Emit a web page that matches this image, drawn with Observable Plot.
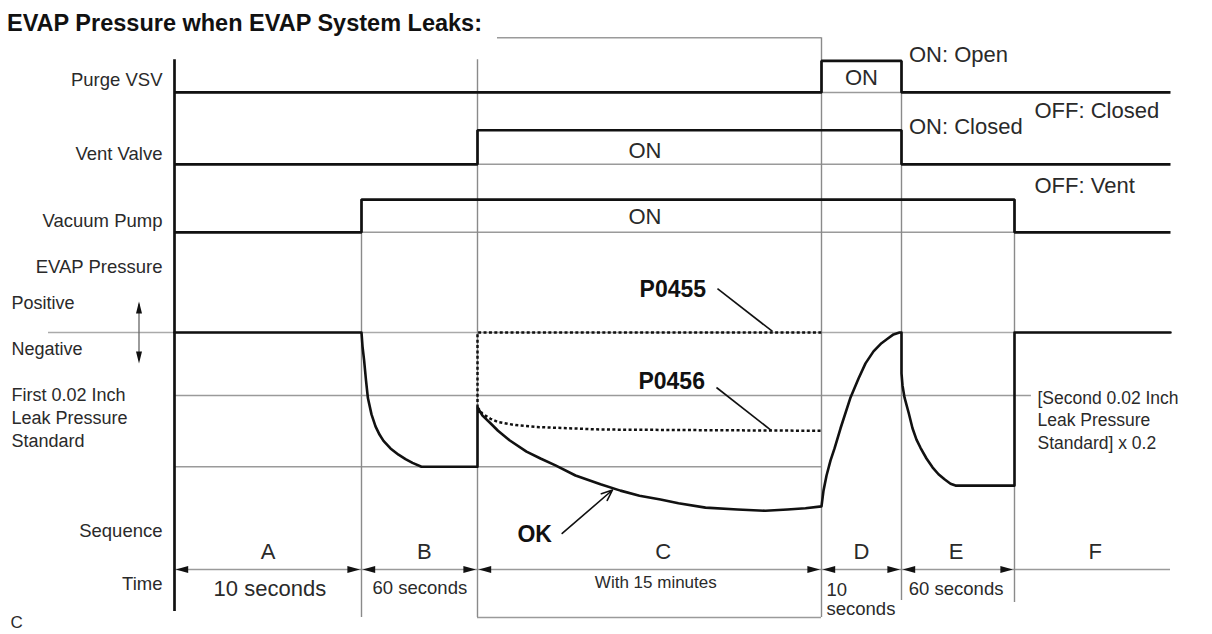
<!DOCTYPE html>
<html><head><meta charset="utf-8">
<script src="https://cdn.jsdelivr.net/npm/d3@7"></script>
<script src="https://cdn.jsdelivr.net/npm/@observablehq/plot@0.6"></script>
<style>
html,body{margin:0;padding:0;background:#fff;}
#title{height:34px;box-sizing:border-box;padding:12px 0 0 7px;font:bold 23.5px/23px "Liberation Sans",Arial,sans-serif;color:#111;white-space:nowrap;}
#chart svg{display:block;}
</style></head>
<body>
<div id="title">EVAP Pressure when EVAP System Leaks:</div>
<div id="chart"></div>
<script>
// ---- Sequence phases (time in seconds; F has no stated length) ----
const phaseNames = ["A", "B", "C", "D", "E", "F"];
const phaseBounds = [0, 10, 70, 970, 980, 1040, 1100];
const phaseLetterT = [5, 42.5, 556, 975, 1009, 1071];

// ---- Switched signals (relative level units) ----
const signalNames = ["Purge VSV", "Vent Valve", "Vacuum Pump"];
const signalOff = [3.81, 2.67, 1.59];
const signalOn = [4.31, 3.21, 2.11];
const signalOnStart = [970, 70, 10];
const signalOnEnd = [980, 980, 1040];
const signalOnLabelT = [975, 508, 508];
const signalOnLabelV = [3.932, 2.773, 1.730];

// ---- EVAP pressure (0 = atmospheric, -1 = first 0.02 inch leak standard) ----
const pressureT = [0, 10, 10.52, 11.34, 12.33, 13.31, 15.17, 17.24, 19.31, 21.38, 25, 29.14, 32.76, 36.38, 41.03, 70,
  70, 83.1, 104, 123.6, 153.7, 198.2, 234.8, 274, 326.4, 391.8, 444, 493.8, 548.7, 595.8, 666.5, 750.2, 823.4, 881, 928, 970,
  970.25, 970.63, 971.13, 971.63, 972.38, 973.63, 974.63, 975.5, 976.5, 977.5, 978.25, 979, 979.75, 980,
  980, 980.53, 981.59, 983.93, 985.84, 987.96, 990.09, 993.27, 996.46, 999.65, 1002.83, 1006.02, 1008.67, 1040,
  1040, 1100];
const pressureV = [0, 0, -0.22, -0.44, -0.76, -1.04, -1.30, -1.49, -1.62, -1.72, -1.84, -1.94, -2.01, -2.07, -2.13, -2.13,
  -1.19, -1.32, -1.44, -1.56, -1.71, -1.89, -2.0, -2.11, -2.27, -2.41, -2.51, -2.59, -2.65, -2.71, -2.78, -2.81, -2.83, -2.81, -2.79, -2.76,
  -2.51, -2.27, -2.03, -1.84, -1.52, -1.03, -0.73, -0.49, -0.30, -0.17, -0.10, -0.03, 0, 0,
  -0.65, -0.84, -1.03, -1.29, -1.52, -1.70, -1.83, -2.0, -2.14, -2.25, -2.33, -2.40, -2.43, -2.43,
  0, 0];
const p0455T = [70, 70, 970];
const p0455V = [-1.19, 0, 0];
const p0456T = [70, 83.1, 104, 123.6, 169.4, 224.4, 391.8, 653.4, 970];
const p0456V = [-1.19, -1.29, -1.37, -1.42, -1.47, -1.50, -1.54, -1.55, -1.56];
const bFloorLevel = -2.13;
const firstStdLevel = -1;

// ---- Guides (time, level) ----
const hGuideV = [firstStdLevel, bFloorLevel, -3.762, 4.678, -4.524];
const hGuideT1 = [0, 0, 0, 122.3, 70];
const hGuideT2 = [1046.5, 970, 1100, 970, 970];
const vGuideT = [10, 70, 970, 980, 1040];
const vGuideTop = [2.11, 4.33, 4.678, 4.306, 2.11];
const vGuideBottom = [-4.524, -4.524, -4.524, -4.254, -4.286];
const axisTop = 4.33, axisBottom = -4.43;
const timeAxisLevel = -3.762;

// ---- Texts ----
const rowLabelText = ["Purge VSV", "Vent Valve", "Vacuum Pump", "EVAP Pressure", "Sequence", "Time"];
const rowLabelV = [3.92, 2.741, 1.671, 0.941, -3.249, -4.095];
const sideLabelText = ["Positive", "Negative", "First 0.02 Inch\nLeak Pressure\nStandard"];
const sideLabelV = [0.376, -0.365, -1.821];
const onStateText = ["ON: Open", "ON: Closed"];
const onStateV = [4.29, 3.154];
const offStateText = ["OFF: Closed", "OFF: Vent"];
const offStateV = [3.397, 2.217];
const durationText = ["10 seconds", "60 seconds", "With 15 minutes", "60 seconds"];
const durationT = [5.1, 40.2, 536.5, 1009];
const durationV = [-4.175, -4.143, -4.063, -4.159];
const durationSize = [22, 18.5, 17, 18.5];
const codeText = ["P0455", "P0456", "OK"];
const codeT = [494, 491, 174.6];
const codeV = [0.571, -0.889, -3.33];
const leaderT1 = [697.8, 695.2], leaderT2 = [841.7, 839.1];
const leaderV1 = [0.698, -0.873], leaderV2 = [0.016, -1.556];
const okArrow = {t1: 291.6, v1: -3.19, t2: 423.2, v2: -2.50};

// ---- build tables ----
const signalRows = signalNames.flatMap((name, i) => [
  {name, t: 0, v: signalOff[i]},
  {name, t: signalOnStart[i], v: signalOn[i]},
  {name, t: signalOnEnd[i], v: signalOff[i]},
  {name, t: phaseBounds[phaseBounds.length - 1], v: signalOff[i]}
]);
const pressure = pressureT.map((t, i) => ({t, v: pressureV[i]}));
const p0455 = p0455T.map((t, i) => ({t, v: p0455V[i]}));
const p0456 = p0456T.map((t, i) => ({t, v: p0456V[i]}));
const hGuides = hGuideV.map((v, i) => ({v, t1: hGuideT1[i], t2: hGuideT2[i]}));
const vGuides = vGuideT.map((t, i) => ({t, v1: vGuideTop[i], v2: vGuideBottom[i]}));
const phaseStarts = phaseBounds.slice(0, 5);
const phaseEnds = phaseBounds.slice(1, 6);

const arrowHead = {draw(ctx) { ctx.moveTo(0, 0); ctx.lineTo(-12.5, -3.5); ctx.lineTo(-12.5, 3.5); ctx.closePath(); }};
const arrowHeadThin = {draw(ctx) { ctx.moveTo(0, 0); ctx.lineTo(-12, -3); ctx.lineTo(-12, 3); ctx.closePath(); }};

const GREY = "#9a9a9a", VGREY = "#8a8a8a", INK = "#111", TXT = "#2a2a2a";
const W = 1212, H = 600, ML = 48, MR = 42;

const chart = Plot.plot({
  width: W, height: H,
  marginLeft: ML, marginRight: MR, marginTop: 0, marginBottom: 0,
  style: {fontFamily: '"Liberation Sans", Arial, sans-serif', background: "#fff", overflow: "visible"},
  x: {type: "linear", domain: phaseBounds, range: [174, 361, 477, 821, 901, 1014, 1170], axis: null},
  y: {domain: [-4.7937, 4.7302], range: [H, 0], axis: null},
  marks: [
    // grey guides
    Plot.ruleY([0], {stroke: "#aaa", strokeWidth: 1.5}),
    Plot.ruleY(hGuides, {y: "v", x1: "t1", x2: "t2", stroke: GREY, strokeWidth: 1.5}),
    Plot.ruleY(signalOff, {y: d => d, x1: 0, x2: 1100, stroke: GREY, strokeWidth: 1.5}),
    Plot.ruleX(vGuides, {x: "t", y1: "v1", y2: "v2", stroke: VGREY, strokeWidth: 1.4}),
    // time axis arrowheads
    Plot.dot(phaseStarts, {x: d => d, y: timeAxisLevel, symbol: arrowHead, rotate: 180, dx: 1.2, fill: INK, stroke: null}),
    Plot.dot(phaseEnds, {x: d => d, y: timeAxisLevel, symbol: arrowHead, rotate: 0, dx: -1.6, fill: INK, stroke: null}),
    // positive / negative double arrow
    Plot.ruleX([0], {x: 0, y1: 0.45, y2: -0.45, dx: -35.5, stroke: "#666", strokeWidth: 1.3}),
    Plot.dot([0.492, -0.492], {y: d => d, x: 0, dx: -35.5, symbol: arrowHeadThin, rotate: d => d > 0 ? -90 : 90, fill: INK, stroke: null}),
    // left axis
    Plot.ruleX([0], {x: 0, y1: axisTop, y2: axisBottom, stroke: INK, strokeWidth: 2.7}),
    // dotted failure traces
    Plot.line(p0455, {x: "t", y: "v", stroke: INK, strokeWidth: 2.5, strokeDasharray: "3,2.4", strokeLinecap: "butt"}),
    Plot.line(p0456, {x: "t", y: "v", stroke: INK, strokeWidth: 2.5, strokeDasharray: "3,2.4", strokeLinecap: "butt"}),
    // signals
    Plot.line(signalRows, {x: "t", y: "v", z: "name", curve: "step-after", stroke: INK, strokeWidth: 2.7, strokeLinejoin: "miter", strokeLinecap: "butt"}),
    // pressure
    Plot.line(pressure, {x: "t", y: "v", stroke: INK, strokeWidth: 2.6, strokeLinejoin: "round"}),
    // leaders
    Plot.link(leaderT1, {x1: d => d, x2: (d, i) => leaderT2[i], y1: (d, i) => leaderV1[i], y2: (d, i) => leaderV2[i], stroke: INK, strokeWidth: 1.6}),
    Plot.arrow([okArrow], {x1: "t1", y1: "v1", x2: "t2", y2: "v2", stroke: INK, strokeWidth: 1.6, headLength: 11, headAngle: 45}),
    // row labels
    Plot.text(rowLabelText, {text: d => d, y: (d, i) => rowLabelV[i], frameAnchor: "left", dx: 162 - ML, textAnchor: "end", lineAnchor: "bottom", fontSize: 18.5, fill: TXT}),
    Plot.text(sideLabelText, {text: d => d, y: (d, i) => sideLabelV[i], frameAnchor: "left", dx: 11 - ML, textAnchor: "start", lineAnchor: "bottom", lineHeight: 1.28, fontSize: 18, fill: TXT}),
    Plot.text(["C"], {text: d => d, y: -4.683, frameAnchor: "left", dx: 10 - ML, textAnchor: "start", lineAnchor: "bottom", fontSize: 17, fill: TXT}),
    // state annotations
    Plot.text(onStateText, {text: d => d, x: 980, y: (d, i) => onStateV[i], dx: 7.5, textAnchor: "start", lineAnchor: "bottom", fontSize: 22, fill: TXT}),
    Plot.text(offStateText, {text: d => d, x: 1040, y: (d, i) => offStateV[i], dx: 20, textAnchor: "start", lineAnchor: "bottom", fontSize: 22, fill: TXT}),
    Plot.text(["[Second 0.02 Inch\nLeak Pressure\nStandard] x 0.2"], {text: d => d, x: 1040, y: -1.846, dx: 23, textAnchor: "start", lineAnchor: "bottom", lineHeight: 1.286, fontSize: 17.5, fill: TXT}),
    Plot.text(signalNames, {text: () => "ON", x: (d, i) => signalOnLabelT[i], y: (d, i) => signalOnLabelV[i], lineAnchor: "bottom", fontSize: 22, fill: TXT}),
    // sequence letters and durations
    Plot.text(phaseNames, {text: d => d, x: (d, i) => phaseLetterT[i], y: -3.595, lineAnchor: "bottom", fontSize: 22, fill: TXT}),
    Plot.text(durationText, {text: d => d, x: (d, i) => durationT[i], y: (d, i) => durationV[i], lineAnchor: "bottom", fontSize: (d, i) => durationSize[i], fill: TXT}),
    Plot.text(["10\nseconds"], {text: d => d, x: 970, y: -4.492, dx: 5, textAnchor: "start", lineAnchor: "bottom", lineHeight: 1.08, fontSize: 18.5, fill: TXT}),
    // codes
    Plot.text(codeText, {text: d => d, x: (d, i) => codeT[i], y: (d, i) => codeV[i], textAnchor: "start", lineAnchor: "bottom", fontSize: 23, fontWeight: "bold", fill: INK})
  ]
});
document.getElementById("chart").appendChild(chart);
</script>
</body></html>
